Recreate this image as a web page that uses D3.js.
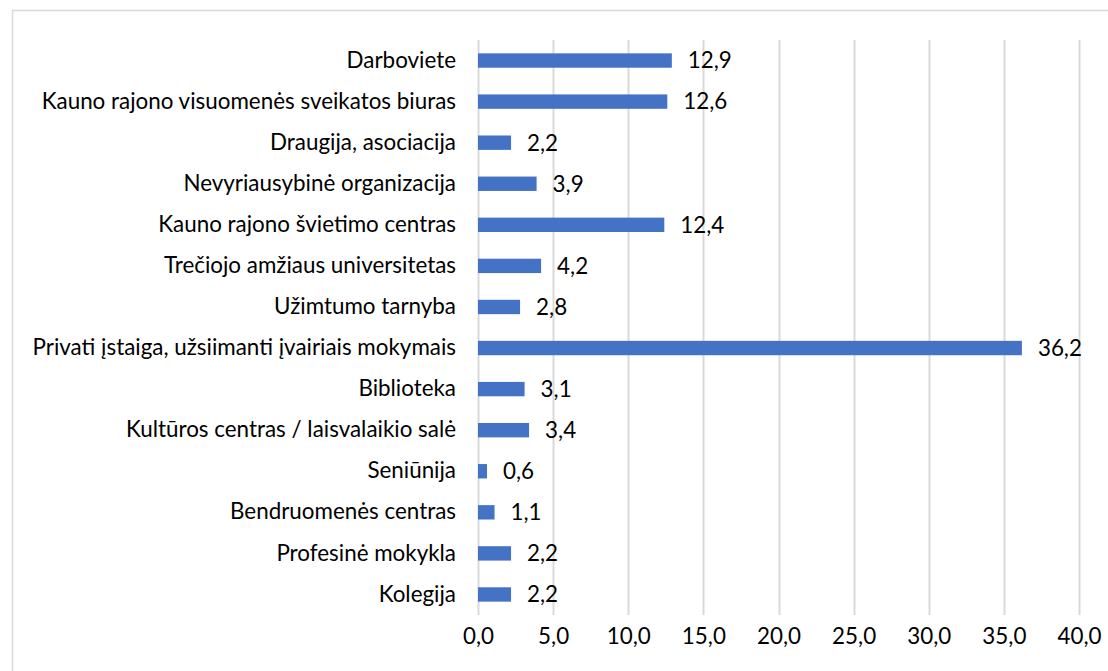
<!DOCTYPE html>
<html>
<head>
<meta charset="utf-8">
<script src="https://cdn.jsdelivr.net/npm/d3@7"></script>
<style>
  body { margin: 0; background: #fff; }
  svg text { font-family: Lato, "Open Sans", sans-serif; fill: #000; }
</style>
</head>
<body>
<svg id="chart" width="1108" height="671"></svg>
<script>
// categories top to bottom, values in %
var categories = ["Darboviete", "Kauno rajono visuomenės sveikatos biuras", "Draugija, asociacija",
  "Nevyriausybinė organizacija", "Kauno rajono švietimo centras", "Trečiojo amžiaus universitetas",
  "Užimtumo tarnyba", "Privati įstaiga, užsiimanti įvairiais mokymais", "Biblioteka",
  "Kultūros centras / laisvalaikio salė", "Seniūnija", "Bendruomenės centras",
  "Profesinė mokykla", "Kolegija"];
var values = [12.9, 12.6, 2.2, 3.9, 12.4, 4.2, 2.8, 36.2, 3.1, 3.4, 0.6, 1.1, 2.2, 2.2];
var xTicks = [0, 5, 10, 15, 20, 25, 30, 35, 40];

var svg = d3.select("#chart");
var fmt = function(v) { return v.toFixed(1).replace(".", ","); };
var fontSize = 22.4;

// plot area (window.top is reserved, so own names)
var plotLeft = 478, plotRight = 1079, plotTop = 40, plotBottom = 615;

// chart frame
svg.append("rect")
  .attr("x", 12.5).attr("y", 10.5)
  .attr("width", 1110).attr("height", 680)
  .attr("fill", "none")
  .attr("stroke", "#d9d9d9")
  .attr("stroke-width", 1.5);

var x = d3.scaleLinear().domain([0, 40]).range([plotLeft, plotRight]);
var y = d3.scaleBand().domain(categories).range([plotTop, plotBottom]).paddingInner(0.65).paddingOuter(0.325);

// gridlines
svg.append("g")
  .selectAll("line")
  .data(xTicks).enter()
  .append("line")
    .attr("x1", function(d) { return Math.round(x(d)) + 0.5; })
    .attr("x2", function(d) { return Math.round(x(d)) + 0.5; })
    .attr("y1", plotTop)
    .attr("y2", plotBottom)
    .attr("stroke", "#d9d9d9")
    .attr("stroke-width", 2);

// x axis labels
var xAxis = d3.axisBottom(x).tickValues(xTicks).tickFormat(fmt).tickSize(0).tickPadding(0);
var gx = svg.append("g")
  .attr("transform", "translate(0," + (plotBottom + 13) + ")")
  .call(xAxis);
gx.select(".domain").remove();
gx.selectAll("text")
  .attr("font-size", fontSize)
  .attr("dy", "0.71em")
  .style("font-family", "Lato, 'Open Sans', sans-serif");

// bars
svg.append("g")
  .selectAll("rect")
  .data(values).enter()
  .append("rect")
    .attr("x", x(0))
    .attr("y", function(d, i) { return y(categories[i]); })
    .attr("width", function(d) { return x(d) - x(0); })
    .attr("height", y.bandwidth())
    .attr("fill", "#4472c4");

// value labels
svg.append("g")
  .selectAll("text")
  .data(values).enter()
  .append("text")
    .attr("x", function(d) { return x(d) + 16; })
    .attr("y", function(d, i) { return y(categories[i]) + y.bandwidth() / 2; })
    .attr("dy", "0.35em")
    .attr("font-size", fontSize)
    .text(fmt);

// category labels
var yAxis = d3.axisLeft(y).tickSize(0).tickPadding(22);
var gy = svg.append("g")
  .attr("transform", "translate(" + plotLeft + ",0)")
  .call(yAxis);
gy.select(".domain").remove();
gy.selectAll("text")
  .attr("font-size", fontSize)
  .style("font-family", "Lato, 'Open Sans', sans-serif");
</script>
</body>
</html>
